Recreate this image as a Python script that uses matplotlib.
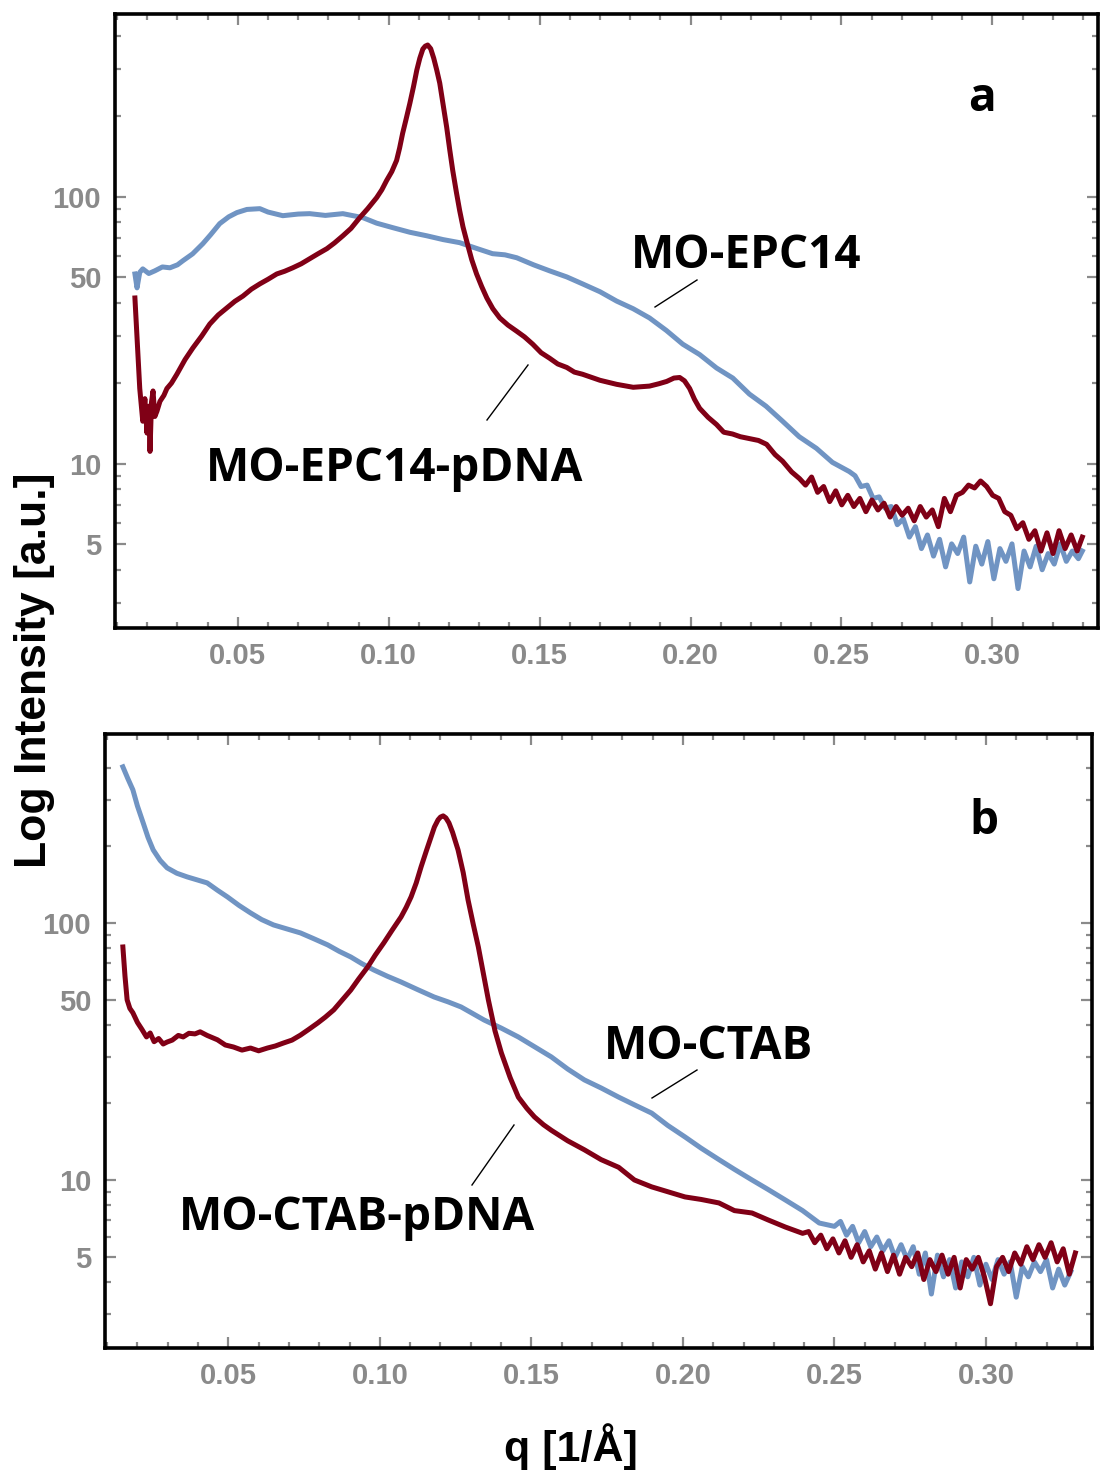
import matplotlib
matplotlib.use("Agg")
import matplotlib.pyplot as plt
from matplotlib.ticker import FixedLocator, NullFormatter
from matplotlib.lines import Line2D

# panel a: MO-EPC14 (blue) and MO-EPC14-pDNA (red)
q_epc = [0.0159, 0.0166, 0.0175, 0.0185, 0.0205, 0.0225, 0.0250, 0.0275, 0.0300, 0.0318,
         0.0350, 0.0384, 0.0410, 0.0440, 0.0470, 0.0497, 0.0530, 0.0573, 0.0600, 0.0649,
         0.0700, 0.0738, 0.0790, 0.0848, 0.0914, 0.0960, 0.1013, 0.1070, 0.1126, 0.1180,
         0.1235, 0.1290, 0.1344, 0.1385, 0.1424, 0.1480, 0.1533, 0.1590, 0.1642, 0.1700,
         0.1755, 0.1810, 0.1864, 0.1920, 0.1974, 0.2030, 0.2086, 0.2140, 0.2195, 0.2250,
         0.2305, 0.2360, 0.2417, 0.2470, 0.2526,
         0.2545, 0.2565, 0.2585, 0.2605, 0.2625, 0.2645, 0.2665, 0.2685, 0.2705, 0.2725,
         0.2745, 0.2765, 0.2785, 0.2805, 0.2825, 0.2845, 0.2865, 0.2885, 0.2905, 0.2925,
         0.2945, 0.2965, 0.2985, 0.3005, 0.3025, 0.3045, 0.3065, 0.3085, 0.3105, 0.3125,
         0.3145, 0.3165, 0.3185, 0.3205, 0.3225, 0.3245, 0.3265, 0.3285, 0.3298]
i_epc = [51.3, 45.5, 52.0, 53.6, 51.5, 52.7, 54.5, 54.1, 55.5, 57.5,
         61.0, 66.6, 72.0, 79.2, 84.0, 87.1, 89.5, 90.1, 87.5, 84.8,
         86.0, 86.3, 85.0, 86.3, 83.4, 79.5, 76.5, 73.5, 71.3, 69.0,
         67.2, 64.0, 61.1, 60.5, 59.0, 55.5, 52.7, 50.0, 47.1, 44.0,
         40.6, 38.0, 35.1, 31.5, 28.0, 25.6, 22.8, 20.9, 18.2, 16.4,
         14.4, 12.6, 11.4, 10.1, 9.33,
         9.0, 8.2, 8.3, 7.4, 7.5, 6.8, 6.9, 5.9, 6.2, 5.3,
         5.8, 4.8, 5.4, 4.5, 5.2, 4.1, 5.0, 4.6, 5.3, 3.6,
         4.9, 4.2, 5.1, 3.7, 4.8, 4.3, 5.0, 3.4, 4.7, 4.1,
         4.9, 4.0, 4.6, 4.2, 5.0, 4.3, 4.7, 4.4, 4.7]

q_epc_dna = [0.0159, 0.0175, 0.0185, 0.0192, 0.0199, 0.0205, 0.0209, 0.0214, 0.0219, 0.0225,
             0.0232, 0.0242, 0.0255, 0.0265, 0.0280, 0.0298, 0.0325, 0.0351, 0.0380, 0.0407,
             0.0435, 0.0464, 0.0490, 0.0517, 0.0545, 0.0573, 0.0600, 0.0629, 0.0655, 0.0682,
             0.0710, 0.0738, 0.0765, 0.0795, 0.0820, 0.0848, 0.0875, 0.0904, 0.0930, 0.0960,
             0.0977, 0.0993, 0.1010, 0.1026, 0.1036, 0.1046, 0.1058, 0.1070, 0.1082, 0.1093,
             0.1103, 0.1113, 0.1121, 0.1129, 0.1139, 0.1149, 0.1159, 0.1169, 0.1180, 0.1192,
             0.1202, 0.1212, 0.1224, 0.1235, 0.1246, 0.1258, 0.1275, 0.1291, 0.1308, 0.1325,
             0.1345, 0.1368, 0.1395, 0.1424, 0.1450, 0.1477, 0.1505, 0.1533, 0.1560, 0.1590,
             0.1615, 0.1642, 0.1700, 0.1755, 0.1810, 0.1864, 0.1895, 0.1921, 0.1945, 0.1964,
             0.1980, 0.1997, 0.2013, 0.2030, 0.2058, 0.2086, 0.2110, 0.2139, 0.2165, 0.2195,
             0.2225, 0.2252, 0.2280, 0.2305, 0.2335, 0.2361,
             0.2381, 0.2401, 0.2421, 0.2441, 0.2461, 0.2481, 0.2501, 0.2521, 0.2541, 0.2561,
             0.2581, 0.2601, 0.2621, 0.2641, 0.2661, 0.2681, 0.2701, 0.2721, 0.2741, 0.2761,
             0.2781, 0.2801, 0.2821, 0.2841, 0.2861, 0.2881, 0.2901, 0.2921, 0.2941, 0.2961,
             0.2981, 0.3001, 0.3021, 0.3041, 0.3061, 0.3081, 0.3101, 0.3121, 0.3141, 0.3161,
             0.3181, 0.3201, 0.3221, 0.3241, 0.3261, 0.3281, 0.3298]
i_epc_dna = [41.7, 19.1, 14.4, 17.5, 13.0, 16.4, 11.1, 17.0, 18.7, 15.0,
             15.7, 17.1, 18.0, 19.1, 20.0, 21.6, 24.5, 27.1, 30.0, 33.3,
             36.0, 38.3, 40.5, 42.4, 45.0, 47.1, 49.0, 51.3, 52.5, 54.1,
             56.0, 58.5, 61.0, 63.8, 67.0, 71.3, 76.0, 83.4, 90.0, 99.1,
             106.0, 114.9, 124.0, 136.6, 152.0, 172.5, 196.0, 223.7, 258.0, 297.7,
             330.0, 357.0, 366.0, 369.6, 358.0, 330.0, 298.0, 266.0, 222.0, 181.7,
             150.0, 125.3, 104.0, 88.6, 77.0, 68.3, 58.0, 51.3, 46.0, 41.7,
             38.0, 35.1, 33.0, 31.3, 29.8, 28.0, 26.0, 24.8, 23.6, 22.9,
             22.0, 21.6, 20.5, 19.8, 19.3, 19.5, 19.9, 20.3, 20.9, 21.0,
             20.4, 19.1, 17.4, 16.1, 14.9, 14.0, 13.1, 12.9, 12.6, 12.4,
             12.2, 11.8, 10.8, 10.2, 9.3, 8.78,
             8.3, 8.9, 7.8, 8.2, 7.2, 7.9, 7.0, 7.6, 6.9, 7.4,
             6.6, 7.3, 6.7, 7.1, 6.3, 6.9, 6.4, 6.8, 6.1, 6.9,
             6.3, 6.7, 5.8, 7.4, 6.6, 7.6, 7.8, 8.3, 8.1, 8.6,
             8.2, 7.6, 7.4, 6.6, 6.4, 5.7, 6.0, 5.2, 5.6, 4.7,
             5.5, 4.6, 5.6, 4.8, 5.4, 4.7, 5.3]

# panel b: MO-CTAB (blue) and MO-CTAB-pDNA (red)
q_ctab = [0.0152, 0.0168, 0.0185, 0.0200, 0.0219, 0.0235, 0.0252, 0.0275, 0.0298, 0.0330,
          0.0364, 0.0397, 0.0430, 0.0464, 0.0497, 0.0535, 0.0573, 0.0610, 0.0649, 0.0690,
          0.0738, 0.0780, 0.0828, 0.0866, 0.0904, 0.0940, 0.0980, 0.1025, 0.1070, 0.1125,
          0.1179, 0.1225, 0.1268, 0.1305, 0.1344, 0.1400, 0.1457, 0.1510, 0.1566, 0.1620,
          0.1675, 0.1730, 0.1788, 0.1840, 0.1897, 0.1950, 0.2007, 0.2060, 0.2119, 0.2170,
          0.2228, 0.2280, 0.2338, 0.2395, 0.2450, 0.2500,
          0.2520, 0.2540, 0.2560, 0.2580, 0.2600, 0.2620, 0.2640, 0.2660, 0.2680, 0.2700,
          0.2720, 0.2740, 0.2760, 0.2780, 0.2800, 0.2820, 0.2840, 0.2860, 0.2880, 0.2900,
          0.2920, 0.2940, 0.2960, 0.2980, 0.3000, 0.3020, 0.3040, 0.3060, 0.3080, 0.3100,
          0.3120, 0.3140, 0.3160, 0.3180, 0.3200, 0.3220, 0.3240, 0.3260, 0.3280]
i_ctab = [404.6, 365.0, 329.3, 285.0, 244.9, 215.0, 192.3, 175.0, 163.7, 156.0,
          151.0, 147.0, 143.1, 134.0, 126.2, 117.0, 109.4, 103.0, 98.2, 95.0,
          91.4, 87.0, 82.1, 77.5, 73.7, 69.5, 65.6, 62.0, 58.9, 55.0,
          51.5, 49.3, 47.1, 44.5, 41.9, 39.0, 36.0, 33.0, 30.1, 27.0,
          24.5, 22.8, 21.0, 19.6, 18.2, 16.3, 14.7, 13.3, 12.0, 11.0,
          10.0, 9.2, 8.36, 7.6, 6.80, 6.6,
          6.9, 6.1, 6.6, 5.7, 6.3, 5.5, 6.0, 5.3, 5.8, 5.0,
          5.6, 4.9, 5.5, 4.3, 5.2, 3.6, 5.1, 4.2, 4.9, 3.8,
          4.8, 4.2, 5.0, 3.9, 4.7, 4.1, 4.9, 4.3, 4.8, 3.5,
          4.6, 4.2, 4.8, 4.4, 4.9, 3.8, 4.5, 3.9, 4.4]

q_ctab_dna = [0.0152, 0.0159, 0.0166, 0.0175, 0.0185, 0.0200, 0.0215, 0.0230, 0.0242, 0.0255,
              0.0270, 0.0285, 0.0298, 0.0315, 0.0335, 0.0351, 0.0370, 0.0390, 0.0407, 0.0430,
              0.0464, 0.0490, 0.0517, 0.0545, 0.0573, 0.0600, 0.0629, 0.0655, 0.0682, 0.0710,
              0.0738, 0.0765, 0.0795, 0.0820, 0.0848, 0.0875, 0.0904, 0.0930, 0.0960, 0.0985,
              0.1013, 0.1040, 0.1070, 0.1087, 0.1103, 0.1120, 0.1136, 0.1153, 0.1169, 0.1180,
              0.1192, 0.1200, 0.1209, 0.1218, 0.1228, 0.1240, 0.1258, 0.1275, 0.1291, 0.1308,
              0.1325, 0.1342, 0.1358, 0.1380, 0.1401, 0.1430, 0.1457, 0.1485, 0.1510, 0.1540,
              0.1566, 0.1620, 0.1675, 0.1730, 0.1788, 0.1840, 0.1897, 0.1950, 0.2007, 0.2060,
              0.2119, 0.2170, 0.2228, 0.2280, 0.2338, 0.2395,
              0.2415, 0.2435, 0.2455, 0.2475, 0.2495, 0.2515, 0.2535, 0.2555, 0.2575, 0.2595,
              0.2615, 0.2635, 0.2655, 0.2675, 0.2695, 0.2715, 0.2735, 0.2755, 0.2775, 0.2795,
              0.2815, 0.2835, 0.2855, 0.2875, 0.2895, 0.2915, 0.2935, 0.2955, 0.2975, 0.2995,
              0.3015, 0.3035, 0.3055, 0.3075, 0.3095, 0.3115, 0.3135, 0.3155, 0.3175, 0.3195,
              0.3215, 0.3235, 0.3255, 0.3275, 0.3295]
i_ctab_dna = [80.6, 62.0, 50.2, 46.5, 44.7, 41.0, 38.5, 36.0, 37.3, 34.5,
              35.5, 33.8, 34.4, 35.0, 36.5, 36.0, 37.2, 37.0, 37.7, 36.5,
              35.1, 33.5, 32.9, 32.0, 32.6, 31.8, 32.6, 33.2, 34.1, 35.0,
              36.6, 38.5, 40.8, 43.0, 45.9, 50.0, 54.8, 60.5, 67.4, 75.0,
              83.6, 93.5, 105.5, 115.0, 126.2, 143.0, 165.1, 190.0, 216.1, 236.0,
              251.6, 258.0, 260.8, 256.0, 244.9, 225.0, 192.3, 157.0, 122.9, 99.0,
              80.6, 63.0, 50.2, 38.0, 31.2, 25.0, 21.0, 19.0, 17.6, 16.4,
              15.6, 14.2, 13.1, 12.0, 11.2, 10.0, 9.40, 9.0, 8.59, 8.4,
              8.14, 7.6, 7.44, 7.0, 6.56, 6.2,
              6.3, 5.7, 6.1, 5.4, 5.9, 5.2, 5.8, 5.0, 5.6, 4.8,
              5.3, 4.5, 5.2, 4.4, 5.1, 4.3, 5.0, 4.6, 5.2, 4.1,
              4.9, 4.4, 5.1, 4.3, 5.0, 3.8, 4.9, 4.5, 5.0, 4.2,
              3.3, 4.6, 5.0, 4.4, 5.2, 4.7, 5.5, 4.9, 5.6, 5.0,
              5.7, 4.8, 5.4, 4.3, 5.2]

blue = '#7094c3'
red = '#800016'
tick_gray = '#8a8a8a'

fig = plt.figure(figsize=(11, 14.72), dpi=100)


def style_axes(ax, ylim):
    ax.set_yscale('log')
    ax.set_xlim(0.0093, 0.335)
    ax.set_ylim(*ylim)
    ax.xaxis.set_major_locator(FixedLocator([0.05, 0.10, 0.15, 0.20, 0.25, 0.30]))
    ax.xaxis.set_minor_locator(FixedLocator([0.01 * k for k in range(1, 34)]))
    ax.set_xticklabels(['0.05', '0.10', '0.15', '0.20', '0.25', '0.30'])
    ax.yaxis.set_major_locator(FixedLocator([5, 10, 50, 100]))
    ax.yaxis.set_minor_locator(FixedLocator([3, 4, 6, 7, 8, 9, 20, 30, 40, 60, 70, 80, 90, 200, 300, 400]))
    ax.yaxis.set_minor_formatter(NullFormatter())
    ax.set_yticklabels(['5', '10', '50', '100'])
    ax.tick_params(which='both', direction='in', top=True, right=True, color=tick_gray)
    ax.tick_params(which='major', length=8, width=1.6, labelsize=21, labelcolor=tick_gray, pad=10)
    ax.tick_params(which='minor', length=4, width=1.6)
    for lab in ax.get_xticklabels() + ax.get_yticklabels():
        lab.set_fontfamily('Liberation Sans')
        lab.set_fontweight('bold')
    for sp in ax.spines.values():
        sp.set_linewidth(2.6)
        sp.set_color('black')


ax1 = fig.add_axes([115 / 1100, 1 - 628 / 1472, 983 / 1100, 614 / 1472])
ax1.plot(q_epc, i_epc, color=blue, lw=3.6, solid_joinstyle='round')
ax1.plot(q_epc_dna, i_epc_dna, color=red, lw=3.6, solid_joinstyle='round')
style_axes(ax1, (2.42, 483))

ax2 = fig.add_axes([105 / 1100, 1 - 1348 / 1472, 987 / 1100, 614 / 1472])
ax2.plot(q_ctab, i_ctab, color=blue, lw=3.6, solid_joinstyle='round')
ax2.plot(q_ctab_dna, i_ctab_dna, color=red, lw=3.6, solid_joinstyle='round')
style_axes(ax2, (2.22, 543))

# curve labels and leader lines (pixel positions of the layout)
lab_font = dict(family='Open Sans', weight='bold', size=33, color='black', ha='center', va='baseline')
labels = [('MO-EPC14', 746, 268), ('MO-EPC14-pDNA', 395, 481), ('a', 982, 111),
          ('MO-CTAB', 709, 1059), ('MO-CTAB-pDNA', 357, 1230), ('b', 984, 834)]
for txt, px, py in labels:
    fig.text(px / 1100, 1 - py / 1472, txt, **lab_font)

leaders = [((697, 280), (655, 307)), ((528, 365), (487, 420)),
           ((697, 1070), (652, 1098)), ((514, 1125), (472, 1185))]
for (x0, y0), (x1, y1) in leaders:
    fig.add_artist(Line2D([x0 / 1100, x1 / 1100], [1 - y0 / 1472, 1 - y1 / 1472],
                          transform=fig.transFigure, color='black', lw=1.0))

fig.text(35 / 1100, 1 - 670 / 1472, 'Log Intensity [a.u.]', rotation=90, ha='center', va='center',
         family='Liberation Sans', weight='bold', size=32)
fig.text(571 / 1100, 1 - 1447 / 1472, 'q [1/Å]', ha='center', va='center',
         family='Liberation Sans', weight='bold', size=31)

fig.savefig('out.png', dpi=100)
